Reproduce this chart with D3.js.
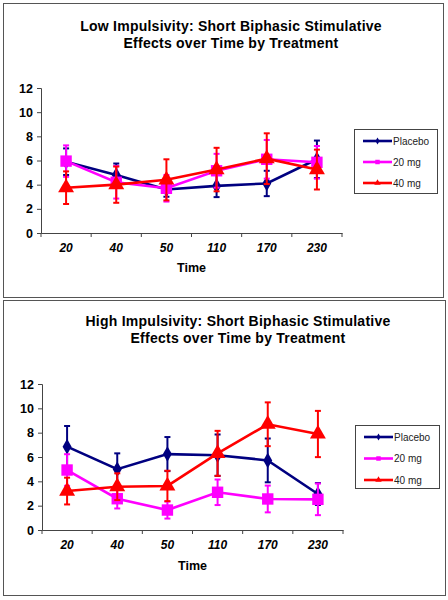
<!DOCTYPE html>
<html><head><meta charset="utf-8">
<script src="https://cdn.jsdelivr.net/npm/d3@7"></script>
<style>body{margin:0;background:#fff}svg{display:block}</style>
</head><body>
<svg id="c" width="448" height="600"></svg>
<script>
const times = ["20","40","50","110","170","230"];
const seriesNames = ["Placebo","20 mg","40 mg"];
const yTicks = [0,2,4,6,8,10,12];

const lowPlacebo    = [5.9, 4.8, 3.6, 3.9, 4.1, 6.1];
const lowPlaceboErr = [1.1, 0.95, 0.6, 0.93, 1.05, 1.55];
const low20         = [5.95, 4.2, 3.7, 5.15, 6.1, 5.85];
const low20Err      = [1.3, 1.35, 1.1, 1.4, 1.6, 1.35];
const low40         = [3.75, 4.0, 4.4, 5.25, 6.15, 5.25];
const low40Err      = [1.35, 1.5, 1.7, 1.8, 2.1, 1.65];

const highPlacebo    = [6.85, 5.0, 6.24, 6.15, 5.72, 2.96];
const highPlaceboErr = [1.7, 1.3, 1.4, 1.7, 1.8, 0.9];
const high20         = [4.93, 2.57, 1.64, 3.1, 2.55, 2.52];
const high20Err      = [1.3, 0.8, 0.7, 1.05, 1.1, 1.3];
const high40         = [3.2, 3.56, 3.62, 6.3, 8.69, 7.89];
const high40Err      = [1.1, 1.1, 1.25, 1.85, 1.8, 1.9];

const colors = ["#000080", "#FF00FF", "#FF0000"];
const shapes = [d3.symbolDiamond, d3.symbolSquare, d3.symbolTriangle];
const sizes = [70, 130, 110];
const legendSizes = [14, 20, 18];

const svg = d3.select("#c");
const FONT = "Liberation Sans, Arial, sans-serif";

function drawChart(cfg) {
  const g = svg.append("g");
  g.append("rect").attr("x", cfg.box[0] + 0.5).attr("y", cfg.box[1] + 0.5)
    .attr("width", cfg.box[2]).attr("height", cfg.box[3])
    .attr("fill", "#fff").attr("stroke", "#555").attr("stroke-width", 1);

  cfg.title.forEach((t, i) => {
    g.append("text").attr("x", cfg.titleX).attr("y", cfg.titleY + i * 16.5)
      .attr("text-anchor", "middle").attr("font-family", FONT)
      .attr("font-weight", "bold").attr("font-size", 14).attr("letter-spacing", 0.25)
      .attr("fill", "#000").text(t);
  });

  const x = d3.scaleBand().domain(times).range([cfg.x0, cfg.x1]);
  const y = d3.scaleLinear().domain([0, 12]).range([cfg.yBottom, cfg.yTop]);

  // Y axis
  const ya = g.append("g").attr("transform", `translate(${cfg.x0},0)`)
    .call(d3.axisLeft(y).tickValues(yTicks).tickSize(4).tickPadding(4));
  ya.select(".domain").attr("stroke", "#444");
  ya.selectAll(".tick line").attr("stroke", "#444");
  ya.selectAll(".tick text").attr("font-family", FONT).attr("font-weight", "bold")
    .attr("font-size", 12.5).attr("fill", "#000");

  // X axis
  const xa = g.append("g").attr("transform", `translate(0,${cfg.yBottom})`)
    .call(d3.axisBottom(x).tickSize(0).tickPadding(10));
  xa.select(".domain").attr("stroke", "#444");
  xa.selectAll(".tick text").attr("font-family", FONT).attr("font-weight", "bold")
    .attr("font-style", "italic").attr("font-size", 12).attr("fill", "#000");
  const bounds = times.map(t => x(t)).concat([cfg.x1]);
  xa.selectAll("line.bnd").data(bounds).enter().append("line").attr("class", "bnd")
    .attr("x1", d => d).attr("x2", d => d).attr("y1", 0).attr("y2", 4)
    .attr("stroke", "#444");

  g.append("text").attr("x", (cfg.x0 + cfg.x1) / 2).attr("y", cfg.timeY)
    .attr("text-anchor", "middle").attr("font-family", FONT).attr("font-weight", "bold")
    .attr("font-size", 12.5).text("Time");

  const cx = t => x(t) + x.bandwidth() / 2;
  const line = d3.line().x((d, i) => cx(times[i])).y(d => y(d));

  cfg.series.forEach((s, si) => {
    const col = colors[si];
    const sg = g.append("g");
    s.vals.forEach((v, i) => {
      const e = s.errs[i];
      const xx = cx(times[i]);
      sg.append("line").attr("x1", xx).attr("x2", xx).attr("y1", y(v - e)).attr("y2", y(v + e))
        .attr("stroke", col).attr("stroke-width", 2);
      [v - e, v + e].forEach(c => {
        sg.append("line").attr("x1", xx - 3).attr("x2", xx + 3).attr("y1", y(c)).attr("y2", y(c))
          .attr("stroke", col).attr("stroke-width", 2);
      });
    });
    sg.append("path").datum(s.vals).attr("d", line).attr("fill", "none")
      .attr("stroke", col).attr("stroke-width", 2.6);
    sg.selectAll("path.m").data(s.vals).enter().append("path").attr("class", "m")
      .attr("d", d3.symbol().type(shapes[si]).size(sizes[si]))
      .attr("transform", (d, i) => `translate(${cx(times[i])},${y(d)})`)
      .attr("fill", col);
  });

  const L = cfg.legend;
  g.append("rect").attr("x", L.x + 0.5).attr("y", L.y + 0.5).attr("width", L.w).attr("height", L.h)
    .attr("fill", "#fff").attr("stroke", "#444");
  seriesNames.forEach((n, i) => {
    const ry = L.y + 12 + i * L.step;
    g.append("line").attr("x1", L.x + 9).attr("x2", L.x + 38).attr("y1", ry).attr("y2", ry)
      .attr("stroke", colors[i]).attr("stroke-width", 2.6);
    g.append("path").attr("d", d3.symbol().type(shapes[i]).size(legendSizes[i]))
      .attr("transform", `translate(${L.x + 23.5},${ry})`).attr("fill", colors[i]);
    g.append("text").attr("x", L.x + 39).attr("y", ry + 3.5).attr("font-family", FONT)
      .attr("font-size", 10).attr("fill", "#222").text(n);
  });
}

drawChart({
  box: [3, 3, 440, 294],
  title: ["Low Impulsivity: Short Biphasic Stimulative", "Effects over Time by Treatment"],
  titleX: 231, titleY: 31,
  x0: 41, x1: 342, yTop: 88, yBottom: 233,
  timeY: 272,
  series: [
    {vals: lowPlacebo, errs: lowPlaceboErr},
    {vals: low20, errs: low20Err},
    {vals: low40, errs: low40Err}
  ],
  legend: {x: 354, y: 129, w: 83, h: 64, step: 21}
});

drawChart({
  box: [3, 300, 442, 295],
  title: ["High Impulsivity: Short Biphasic Stimulative", "Effects over Time by Treatment"],
  titleX: 238, titleY: 326,
  x0: 42, x1: 343, yTop: 384, yBottom: 530,
  timeY: 570,
  series: [
    {vals: highPlacebo, errs: highPlaceboErr},
    {vals: high20, errs: high20Err},
    {vals: high40, errs: high40Err}
  ],
  legend: {x: 355, y: 425, w: 84, h: 63, step: 21.5}
});
</script>
</body></html>
